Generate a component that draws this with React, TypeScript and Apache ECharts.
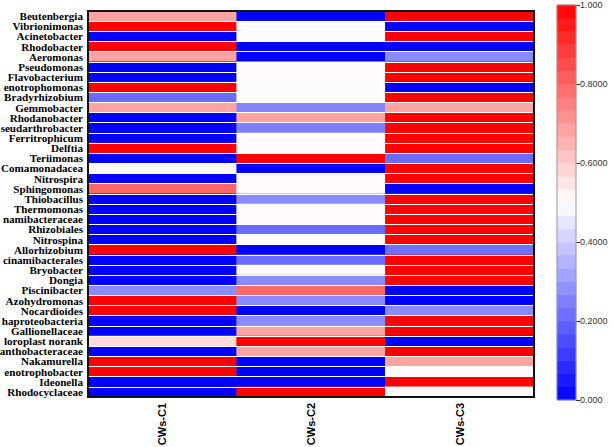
import React, { useEffect, useRef } from "react";
import * as echarts from "echarts";

const taxa = [
  "Beutenbergia", "Vibrionimonas", "Acinetobacter", "Rhodobacter", "Aeromonas",
  "Pseudomonas", "Flavobacterium", "enotrophomonas", "Bradyrhizobium", "Gemmobacter",
  "Rhodanobacter", "seudarthrobacter", "Ferritrophicum", "Delftia", "Teriimonas",
  "Comamonadacea", "Nitrospira", "Sphingomonas", "Thiobacillus", "Thermomonas",
  "namibacteraceae", "Rhizobiales", "Nitrospina", "Allorhizobium", "cinamibacterales",
  "Bryobacter", "Dongia", "Piscinibacter", "Azohydromonas", "Nocardioides",
  "haproteobacteria", "Gallionellaceae", "loroplast norank", "anthobacteraceae", "Nakamurella",
  "enotrophobacter", "Ideonella", "Rhodocyclaceae",
];

const groups = ["CWs-C1", "CWs-C2", "CWs-C3"];

const c1 = [
  0.68, 1, 0, 1, 0.68,
  0, 0, 1, 0.21, 0.68,
  0, 0, 0, 1, 0,
  0.51, 0, 0.8, 0, 0,
  0, 0, 0, 1, 0,
  0, 0, 0.27, 1, 1,
  0, 0, 0.57, 0, 1,
  1, 0, 0,
];
const c2 = [
  0, 0.51, 0.51, 0, 0,
  0.51, 0.51, 0.51, 0.51, 0.26,
  0.68, 0.25, 0.51, 0.51, 1,
  0, 0.51, 0.51, 0.27, 0.51,
  0.51, 0.21, 0.51, 0, 0.21,
  0.51, 0.27, 0.8, 0.27, 0,
  0.27, 0.68, 1, 0.68, 0,
  0, 0, 1,
];
const c3 = [
  1, 0, 1, 0, 0.27,
  1, 1, 0, 1, 0.68,
  1, 1, 1, 1, 0.21,
  1, 1, 0, 1, 1,
  1, 1, 1, 0.22, 1,
  1, 1, 0, 0, 0.27,
  1, 1, 0, 1, 0.68,
  0.51, 1, 0.51,
];

const scaleSteps = 30;
const scaleLabels: Record<string, string> = {
  "0": "0.000", "0.2": "0.2000", "0.4": "0.4000", "0.6": "0.6000", "0.8": "0.8000", "1": "1.000",
};

export default function App() {
  const ref = useRef<HTMLDivElement>(null);
  useEffect(() => {
    const chart = echarts.init(ref.current!, null, { renderer: "svg" });
    const cols = [c1, c2, c3];
    const data: number[][] = [];
    cols.forEach((col, x) => col.forEach((v, y) => data.push([x, y, v])));
    const bands = Array.from({ length: scaleSteps }, (_, i) => String(i));
    const bandData = bands.map((_, i) => [0, i, (i + 0.5) / scaleSteps]);

    chart.setOption({
      animation: false,
      grid: [
        { left: 88, right: 80, top: 11, bottom: 50, show: true, borderColor: "#111", borderWidth: 2, z: 6, backgroundColor: "transparent", outerBoundsMode: "none", containLabel: false },
        { left: 557, width: 19, top: 5, height: 395, show: true, borderColor: "#999", borderWidth: 1, z: 6, backgroundColor: "transparent", outerBoundsMode: "none", containLabel: false },
      ],
      xAxis: [
        {
          type: "category", data: groups, gridIndex: 0,
          axisLine: { show: false }, axisTick: { show: false }, splitLine: { show: false },
          axisLabel: { rotate: 90, fontFamily: "Arial, 'Liberation Sans', sans-serif", fontWeight: "bold", fontSize: 11, color: "#000", margin: 6 },
        },
        { type: "category", data: ["scale"], gridIndex: 1, show: false },
      ],
      yAxis: [
        {
          type: "category", data: taxa, inverse: true, gridIndex: 0, z: 5,
          axisLine: { show: false }, axisTick: { show: false },
          axisLabel: { interval: 0, fontFamily: "'Times New Roman', 'Liberation Serif', serif", fontWeight: "bold", fontSize: 11.1, lineHeight: 10, color: "#000", margin: 5 },
          splitLine: { show: true, interval: 0, lineStyle: { color: "#ffffff", width: 1 } },
        },
        { type: "category", data: bands, gridIndex: 1, show: false },
        {
          type: "value", gridIndex: 1, min: 0, max: 1, interval: 0.2, position: "right",
          axisLine: { show: false },
          axisTick: { show: true, length: 4, lineStyle: { color: "#333" } },
          splitLine: { show: false },
          axisLabel: {
            fontFamily: "Arial, 'Liberation Sans', sans-serif", fontSize: 9, color: "#333", margin: 4,
            formatter: (v: number) => scaleLabels[String(Math.round(v * 10) / 10)] ?? "",
          },
        },
      ],
      visualMap: {
        type: "continuous", show: false, min: 0, max: 1, seriesIndex: [0, 1],
        inRange: { color: ["#0000ff", "#ffffff", "#ff0000"] },
      },
      series: [
        { type: "heatmap", xAxisIndex: 0, yAxisIndex: 0, data, emphasis: { disabled: true } },
        { type: "heatmap", xAxisIndex: 1, yAxisIndex: 1, data: bandData, emphasis: { disabled: true } },
      ],
    });
    return () => chart.dispose();
  }, []);
  return <div ref={ref} style={{ position: "absolute", left: 0, top: 0, width: 614, height: 447 }} />;
}
